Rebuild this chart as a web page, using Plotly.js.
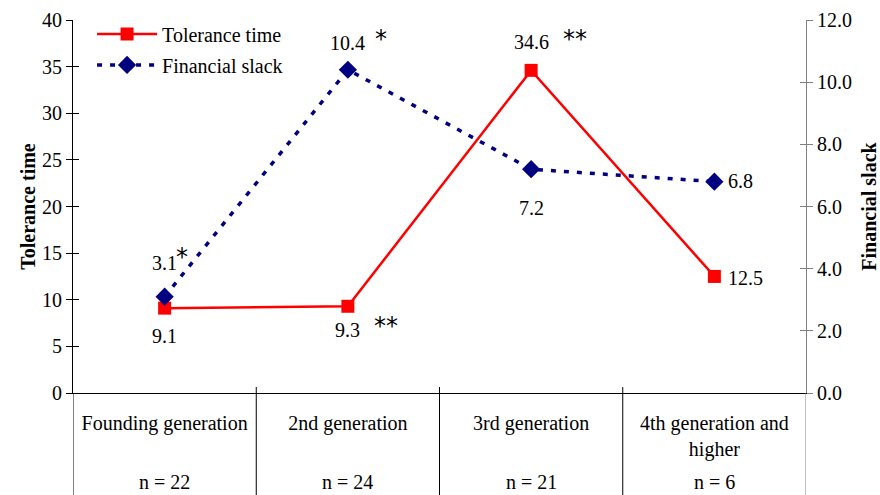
<!DOCTYPE html>
<html>
<head>
<meta charset="utf-8">
<script src="https://cdn.plot.ly/plotly-3.0.1.min.js"></script>
<style>html,body{margin:0;padding:0;background:#fff;}#chart{width:880px;height:495px;}</style>
</head>
<body>
<div id="chart"></div>
<script>
var categories = ["Founding generation", "2nd generation", "3rd generation", "4th generation and<br>higher"];
var sampleSizes = ["n = 22", "n = 24", "n = 21", "n = 6"];
var toleranceTime = [9.1, 9.3, 34.6, 12.5];
var financialSlack = [3.1, 10.4, 7.2, 6.8];
var toleranceStars = ["", "**", "**", ""];
var financialStars = ["*", "*", "", ""];
var leftTicks = [0, 5, 10, 15, 20, 25, 30, 35, 40];
var rightTicks = [0, 2, 4, 6, 8, 10, 12];

var FONT = "Liberation Serif";
var STARFONT = "DejaVu Sans";
var FS = 20;
var idx = categories.map(function(_, i){ return i; });

var traces = [
  {x: idx, y: toleranceTime, name: "Tolerance time", type: "scatter", mode: "lines+markers",
   line: {color: "#FF0000", width: 2.5}, marker: {symbol: "square", size: 13, color: "#FF0000"},
   yaxis: "y", legendgroup: "a", hoverinfo: "skip"},
  {x: idx, y: financialSlack, name: "Financial slack", type: "scatter", mode: "lines+markers",
   line: {color: "#000080", width: 3.5, dash: "5px,8px"}, marker: {symbol: "diamond", size: 14, color: "#000080"},
   yaxis: "y2", legendgroup: "b", hoverinfo: "skip"}
];

var tolShift = [[0,-28],[0,-24],[0,28],[31,-2]];
var finShift = [[0,34],[0,27],[0,-39],[26,1]];
var tolStarShift = [null,[38,-20],[44,31],null];
var finStarShift = [[17,40],[33,31],null,null];

var annotations = [];
idx.forEach(function(i){
  annotations.push({x: i, y: toleranceTime[i], xref: "x", yref: "y", text: toleranceTime[i].toFixed(1),
    showarrow: false, xshift: tolShift[i][0], yshift: tolShift[i][1], font: {family: FONT, size: FS, color: "#000"}});
  annotations.push({x: i, y: financialSlack[i], xref: "x", yref: "y2", text: financialSlack[i].toFixed(1),
    showarrow: false, xshift: finShift[i][0], yshift: finShift[i][1], font: {family: FONT, size: FS, color: "#000"}});
  if (toleranceStars[i]) annotations.push({x: i, y: toleranceTime[i], xref: "x", yref: "y", text: toleranceStars[i],
    showarrow: false, xshift: tolStarShift[i][0], yshift: tolStarShift[i][1], font: {family: STARFONT, size: 24, color: "#000"}});
  if (financialStars[i]) annotations.push({x: i, y: financialSlack[i], xref: "x", yref: "y2", text: financialStars[i],
    showarrow: false, xshift: finStarShift[i][0], yshift: finStarShift[i][1], font: {family: STARFONT, size: 24, color: "#000"}});
  annotations.push({x: i, y: -0.238, xref: "x", yref: "paper", text: sampleSizes[i], showarrow: false,
    yanchor: "middle", font: {family: FONT, size: FS, color: "#000"}});
});

var shapes = [];
for (var k = 0; k <= categories.length; k++) {
  var inner = k > 0 && k < categories.length;
  shapes.push({type: "line", xref: "x", yref: "paper", x0: k - 0.5, x1: k - 0.5,
    y0: -0.3, y1: inner ? 0.016 : 0, line: {color: k === categories.length ? "#808080" : "#000", width: 1}});
}

var layout = {
  width: 880, height: 495,
  margin: {l: 73, r: 74, t: 20, b: 102},
  paper_bgcolor: "#fff", plot_bgcolor: "#fff",
  font: {family: FONT, size: FS, color: "#000"},
  showlegend: true,
  legend: {x: 0.026, y: 1.015, xanchor: "left", yanchor: "top", bgcolor: "rgba(0,0,0,0)", itemwidth: 60,
    font: {family: FONT, size: FS, color: "#000"}, tracegroupgap: 2, traceorder: "grouped"},
  xaxis: {range: [-0.5, 3.5], tickmode: "array", tickvals: idx, ticktext: categories,
    showgrid: false, zeroline: false, showline: true, linecolor: "#000", linewidth: 1,
    ticks: "", ticklabelstandoff: 12, tickfont: {family: FONT, size: FS, color: "#000"}, fixedrange: true},
  yaxis: {range: [0, 40], tickmode: "array", tickvals: leftTicks, showgrid: false, zeroline: false,
    showline: true, linecolor: "#000", linewidth: 1, ticks: "outside", ticklen: 6, tickcolor: "#000",
    tickfont: {family: FONT, size: FS, color: "#000"},
    title: {text: "<b>Tolerance time</b>", font: {family: FONT, size: FS, color: "#000"}, standoff: 1}},
  yaxis2: {range: [0, 12], tickmode: "array", tickvals: rightTicks, tickformat: ".1f", overlaying: "y", side: "right",
    showgrid: false, zeroline: false, showline: true, linecolor: "#808080", linewidth: 1,
    ticks: "outside", ticklen: 6, tickcolor: "#808080", tickfont: {family: FONT, size: FS, color: "#000"},
    title: {text: "<b>Financial slack</b>", font: {family: FONT, size: FS, color: "#000"}, standoff: 14}},
  yaxis3: {range: [0, 40], tickmode: "array", tickvals: leftTicks, overlaying: "y", side: "left",
    showgrid: false, zeroline: false, showline: false, ticks: "inside", ticklen: 6, tickcolor: "#000", showticklabels: false},
  yaxis4: {range: [0, 12], tickmode: "array", tickvals: rightTicks, overlaying: "y", side: "right",
    showgrid: false, zeroline: false, showline: false, ticks: "inside", ticklen: 6, tickcolor: "#808080", showticklabels: false},
  annotations: annotations,
  shapes: shapes
};

traces.push({x: [null], y: [null], yaxis: "y3", showlegend: false, hoverinfo: "skip", type: "scatter"});
traces.push({x: [null], y: [null], yaxis: "y4", showlegend: false, hoverinfo: "skip", type: "scatter"});

Plotly.newPlot("chart", traces, layout, {staticPlot: true, displayModeBar: false});
</script>
</body>
</html>
